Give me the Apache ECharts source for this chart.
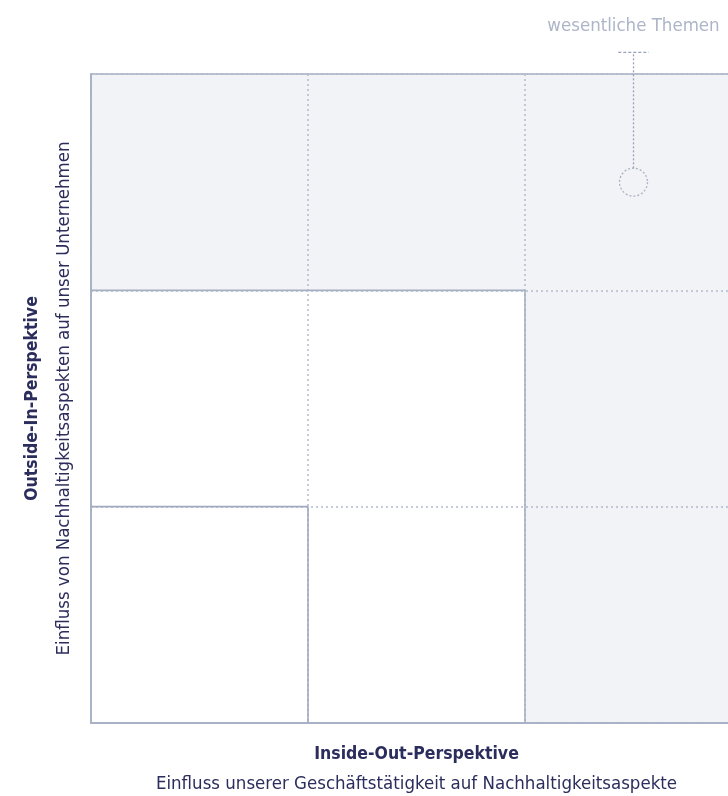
<!DOCTYPE html>
<html><head><meta charset="utf-8">
<script src="https://cdn.jsdelivr.net/npm/echarts@6/dist/echarts.min.js"></script>
<style>html,body{margin:0;padding:0;background:#fff}#c{width:728px;height:796px}</style>
</head><body><div id="c"></div>
<script>
// Data
const xTicks = [0, 1, 2, 3];
const yTicks = [0, 1, 2, 3];
const xTitle = "Inside-Out-Perspektive";
const xSubtitle = "Einfluss unserer Geschäftstätigkeit auf Nachhaltigkeitsaspekte";
const yTitle = "Outside-In-Perspektive";
const ySubtitle = "Einfluss von Nachhaltigkeitsaspekten auf unser Unternehmen";
// shaded "wesentlich" zones: [x0, y0, x1, y1]
const shadedZones = [[0, 2, 3, 3], [2, 0, 3, 2]];
// staircase boundaries
const outerBoundary = [[0, 2], [2, 2], [2, 0]];
const innerBoundary = [[0, 1], [1, 1], [1, 0]];
// annotation
const annotationLabel = "wesentliche Themen";
const annotationPoint = [2.5, 2.5];
const leaderTop = 3.1;
const labelY = 3.22;

const FONT = '"Liberation Sans Narrow", "DejaVu Sans Condensed", sans-serif';
const TXT = '#2b2d5c';
const LINE = '#a5afc4';
const GRID = '#b3bccc';
const ANN = '#98a3ba';

const chart = echarts.init(document.getElementById('c'), null, {renderer: 'canvas'});
chart.setOption({
  animation: false,
  grid: {left: 91, top: 74, width: 651, height: 649, containLabel: false, outerBoundsMode: 'none',
    show: true, borderColor: LINE, borderWidth: 1.5, backgroundColor: 'transparent'},
  xAxis: {
    type: 'value', min: xTicks[0], max: xTicks[xTicks.length - 1], interval: 1,
    axisLabel: {show: false}, axisTick: {show: false},
    axisLine: {show: true, lineStyle: {color: LINE, width: 1.5}},
    splitLine: {show: true, lineStyle: {color: GRID, type: [2, 3], width: 1.5}},
    name: '{b|' + xTitle + '}\n{n|' + xSubtitle + '}',
    nameLocation: 'middle', nameGap: 16,
    nameTextStyle: {rich: {
      b: {fontFamily: FONT, fontSize: 17.5, fontWeight: 'bold', color: TXT, lineHeight: 30},
      n: {fontFamily: FONT, fontSize: 18.5, color: TXT, lineHeight: 30}
    }}
  },
  yAxis: {
    type: 'value', min: yTicks[0], max: yTicks[yTicks.length - 1], interval: 1,
    axisLabel: {show: false}, axisTick: {show: false},
    axisLine: {show: true, lineStyle: {color: LINE, width: 1.5}},
    splitLine: {show: true, lineStyle: {color: GRID, type: [2, 3], width: 1.5}},
    name: '{b|' + yTitle + '}\n{n|' + ySubtitle + '}',
    nameLocation: 'middle', nameGap: 11, nameRotate: 90,
    nameTextStyle: {rich: {
      b: {fontFamily: FONT, fontSize: 17.5, fontWeight: 'bold', color: TXT, lineHeight: 32},
      n: {fontFamily: FONT, fontSize: 18.5, color: TXT, lineHeight: 32}
    }}
  },
  series: [
    {
      type: 'line', data: [], z: -1,
      markArea: {silent: true, z: -1, itemStyle: {color: '#f2f3f6'},
        data: shadedZones.map(z => [{coord: [z[0], z[1]]}, {coord: [z[2], z[3]]}])}
    },
    {type: 'line', data: outerBoundary, symbol: 'none', lineStyle: {color: LINE, width: 1.6}, z: 3},
    {type: 'line', data: innerBoundary, symbol: 'none', lineStyle: {color: '#9fa9bf', width: 1.6}, z: 3},
    {
      type: 'line', clip: false, symbol: 'none', z: 4,
      data: [[annotationPoint[0], annotationPoint[1] + 0.064], [annotationPoint[0], leaderTop]],
      lineStyle: {color: ANN, type: [2, 2], width: 1.3}
    },
    {
      type: 'line', clip: false, symbol: 'none', z: 4,
      data: [[annotationPoint[0] - 0.07, leaderTop], [annotationPoint[0] + 0.07, leaderTop]],
      lineStyle: {color: ANN, type: [3, 2], width: 1.3}
    },
    {
      type: 'scatter', clip: false, z: 5,
      data: [annotationPoint], symbol: 'circle', symbolSize: 28,
      itemStyle: {color: 'rgba(0,0,0,0)', borderColor: ANN, borderWidth: 1.3, borderType: [2, 2]}
    },
    {
      type: 'scatter', clip: false, z: 5, symbolSize: 0,
      data: [[annotationPoint[0], labelY]],
      label: {show: true, position: 'inside', formatter: annotationLabel,
        fontFamily: FONT, fontSize: 18.5, color: ANN}
    }
  ]
});
</script></body></html>
